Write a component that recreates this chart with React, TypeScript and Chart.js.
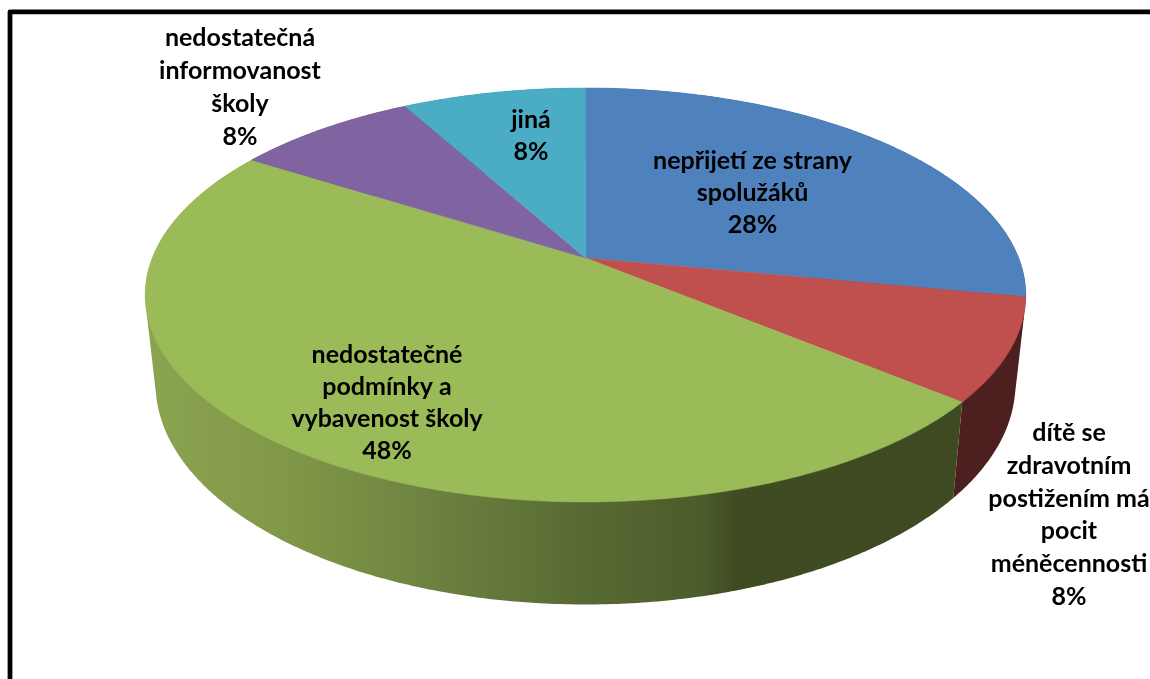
import { useEffect, useRef } from "react";
import { Chart, registerables } from "chart.js";

Chart.register(...registerables);

const categories = [
  "nepřijetí ze strany\nspolužáků",
  "dítě se\nzdravotním\npostižením má\npocit\nméněcennosti",
  "nedostatečné\npodmínky a\nvybavenost školy",
  "nedostatečná\ninformovanost\nškoly",
  "jiná",
];
const shares = [28, 8, 48, 8, 8];
const faceColors = ["#4f81bd", "#c0504d", "#9bbb59", "#8064a2", "#4bacc6"];
const wallColors = ["#2a4566", "#4d1f1e", "#3f4b22", "#44355a", "#285c6b"];

// Label block centres and the spacing of their text lines.
const labelCentres = [
  [752.5, 193],
  [1069, 515],
  [387, 403],
  [240, 87.5],
  [531, 136],
];
const labelLineHeights = [32, 32.8, 32, 33, 32];

// Perspective of the disc: the upper rim and the lower rim are two projected circles.
const CX = 585.5;
const PERSPECTIVE = 0.1787;
const topRim = { a: 433.2, b: 200.4, cy: 258 };
const lowRim = { a: 423, b: 213.7, cy: 344.3 };

function project(rim: { a: number; b: number; cy: number }, angle: number) {
  const u = Math.cos(angle);
  const v = Math.sin(angle);
  const w = 1 - PERSPECTIVE * v;
  return [CX + (rim.a * u) / w, rim.cy + (rim.b * v) / w];
}

function arcPoints(rim: { a: number; b: number; cy: number }, start: number, end: number) {
  const n = Math.max(2, Math.ceil(Math.abs(end - start) / 0.01));
  const pts: number[][] = [];
  for (let i = 0; i <= n; i++) pts.push(project(rim, start + ((end - start) * i) / n));
  return pts;
}

// Convex outline of a wall, which gives the straight tangent edges at both sides of the disc.
function convexOutline(points: number[][]) {
  const pts = [...points].sort((p, q) => p[0] - q[0] || p[1] - q[1]);
  const cross = (o: number[], a: number[], b: number[]) =>
    (a[0] - o[0]) * (b[1] - o[1]) - (a[1] - o[1]) * (b[0] - o[0]);
  const sweep = (list: number[][]) => {
    const out: number[][] = [];
    for (const p of list) {
      while (out.length >= 2 && cross(out[out.length - 2], out[out.length - 1], p) <= 0) out.pop();
      out.push(p);
    }
    out.pop();
    return out;
  };
  return [...sweep(pts), ...sweep([...pts].reverse())];
}

function tracePath(ctx: CanvasRenderingContext2D, pts: number[][]) {
  ctx.beginPath();
  pts.forEach(([x, y], i) => (i ? ctx.lineTo(x, y) : ctx.moveTo(x, y)));
  ctx.closePath();
}

function greenWallFill(ctx: CanvasRenderingContext2D) {
  const g = ctx.createLinearGradient(150, 0, 953, 0);
  const stops: [number, string][] = [
    [150, "#8ba450"],
    [300, "#7f9648"],
    [450, "#6a7f3e"],
    [583, "#586a33"],
    [700, "#4c5c2b"],
    [735, "#3f4c22"],
    [953, "#3e4a22"],
  ];
  stops.forEach(([x, c]) => g.addColorStop((x - 150) / 803, c));
  return g;
}

const tiltedPie = {
  id: "tiltedPie",
  beforeDatasetDraw() {
    // The flat arcs are replaced by the projected slices below.
    return false;
  },
  afterDatasetsDraw(chart: Chart) {
    const ctx = chart.ctx;
    const arcs = chart.getDatasetMeta(0).data as any[];
    ctx.save();

    // Frame of the chart area, open towards the right and the bottom.
    ctx.strokeStyle = "#000";
    ctx.lineWidth = 4.75;
    ctx.lineJoin = "round";
    ctx.strokeRect(10, 11.75, 1300, 800);

    // Walls: back slices first, so the two front slices end up on top.
    [0, 3, 4, 1, 2].forEach((i) => {
      const { startAngle, endAngle } = arcs[i].getProps(["startAngle", "endAngle"], true);
      const pts = convexOutline([
        ...arcPoints(topRim, startAngle, endAngle),
        ...arcPoints(lowRim, startAngle, endAngle),
      ]);
      const fill = i === 2 ? greenWallFill(ctx) : wallColors[i];
      tracePath(ctx, pts);
      ctx.fillStyle = fill;
      ctx.fill();
    });

    // Upper face of every slice.
    arcs.forEach((arc, i) => {
      const { startAngle, endAngle } = arc.getProps(["startAngle", "endAngle"], true);
      const pts = [[CX, topRim.cy], ...arcPoints(topRim, startAngle, endAngle)];
      tracePath(ctx, pts);
      ctx.fillStyle = faceColors[i];
      ctx.fill();
      ctx.strokeStyle = faceColors[i];
      ctx.lineWidth = 0.5;
      ctx.stroke();
    });

    // Category name with its share underneath.
    ctx.fillStyle = "#000";
    ctx.font = "bold 25px Lato";
    ctx.textAlign = "center";
    ctx.textBaseline = "middle";
    categories.forEach((name, i) => {
      const lines = [...name.split("\n"), `${shares[i]}%`];
      const step = labelLineHeights[i];
      const [x, y] = labelCentres[i];
      lines.forEach((line, k) => {
        ctx.fillText(line, x, y + (k - (lines.length - 1) / 2) * step);
      });
    });
    ctx.restore();
  },
};

export default function App() {
  const ref = useRef<HTMLCanvasElement>(null);
  useEffect(() => {
    const chart = new Chart(ref.current!, {
      type: "pie",
      data: {
        labels: categories,
        datasets: [{ data: shares, backgroundColor: faceColors, borderWidth: 0 }],
      },
      options: {
        animation: false,
        responsive: false,
        devicePixelRatio: 1,
        rotation: 0,
        plugins: { legend: { display: false }, tooltip: { enabled: false } },
      },
      plugins: [tiltedPie],
    });
    return () => chart.destroy();
  }, []);
  return (
    <canvas
      ref={ref}
      width={1150}
      height={679}
      style={{ position: "fixed", left: 0, top: 0, display: "block", background: "#fff" }}
    />
  );
}
